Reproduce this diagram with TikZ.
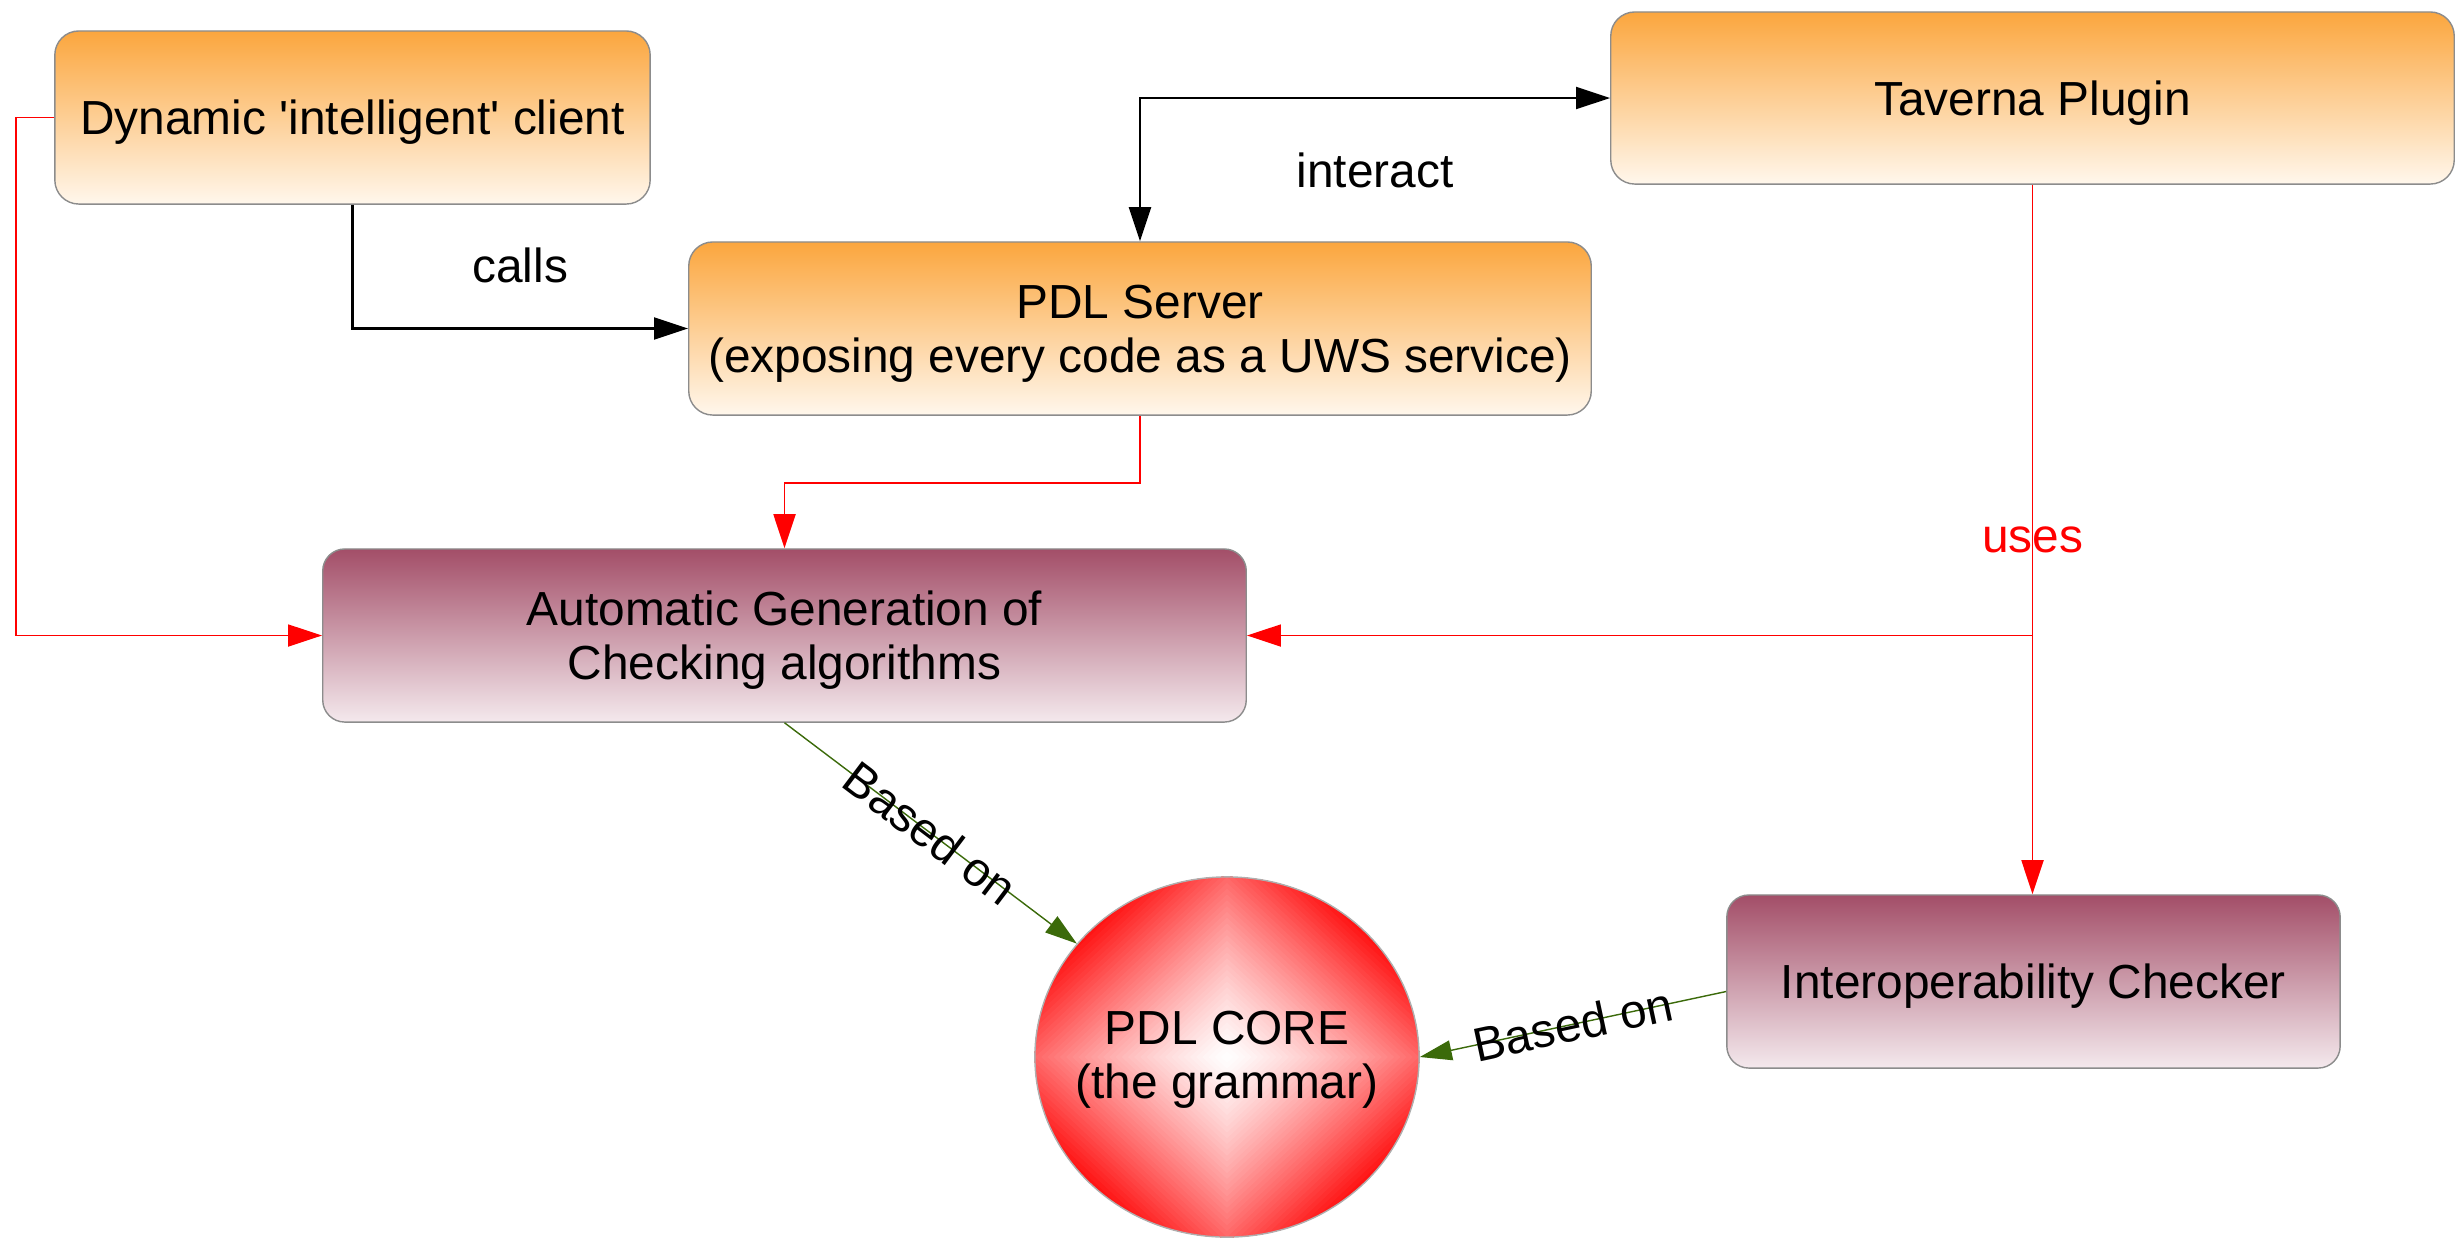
\documentclass[tikz,border=0pt]{standalone}
\usepackage{fontspec}
\setmainfont{Liberation Sans}
\usetikzlibrary{arrows.meta,shapes.geometric}

\definecolor{orangetop}{HTML}{FBA63E}
\definecolor{orangebot}{HTML}{FFF7EC}
\definecolor{maroontop}{HTML}{A34E68}
\definecolor{maroonbot}{HTML}{F4E9ED}
\definecolor{boxedge}{HTML}{8C8C8C}
\definecolor{linkred}{HTML}{FF0000}
\definecolor{basegreen}{HTML}{3B6A0A}

\tikzset{
  bigtri/.tip={Triangle[length=0.34cm,width=0.22cm]},
  greentri/.tip={Triangle[length=0.32cm,width=0.2cm]},
}

\begin{document}
\begin{tikzpicture}[x=0.01cm,y=-0.01cm,
  every node/.style={font=\fontsize{13.6}{15.4}\selectfont},
  orangebox/.style={rectangle, rounded corners=0.24cm, draw=boxedge, line width=0.4pt,
    top color=orangetop, bottom color=orangebot, align=center, inner sep=0pt, text depth=0pt},
  maroonbox/.style={rectangle, rounded corners=0.22cm, draw=boxedge, line width=0.4pt,
    top color=maroontop, bottom color=maroonbot, align=center, inner sep=0pt, text depth=0pt},
  calllink/.style={draw=black, line width=0.6pt, -bigtri},
  uselink/.style={draw=linkred, line width=0.5pt, -bigtri},
  baselink/.style={draw=basegreen, line width=0.4pt, -greentri},
]
\useasboundingbox (0,0) rectangle (2456,1238);

% service boxes
\node[orangebox, minimum width=5.95cm, minimum height=1.73cm] (dyn) at (352.5,117.5)
  {Dynamic \textquotesingle intelligent\textquotesingle\ client};
\node[orangebox, minimum width=9.02cm, minimum height=1.73cm] (pdl) at (1140,328.5)
  {PDL Server\\(exposing every code as a UWS service)};
\node[orangebox, minimum width=8.43cm, minimum height=1.72cm] (tav) at (2032.5,98)
  {Taverna Plugin};

% tool boxes
\node[maroonbox, minimum width=9.23cm, minimum height=1.73cm] (auto) at (784.5,635.5)
  {Automatic Generation of\\Checking algorithms};
\node[maroonbox, minimum width=6.13cm, minimum height=1.73cm] (interop) at (2033.5,981.5)
  {Interoperability Checker};

% grammar core with a diamond-stepped red gradient
\node[ellipse, draw=boxedge!70, line width=0.4pt, minimum width=3.84cm, minimum height=3.6cm,
  inner sep=0pt,
  path picture={
    \foreach \i in {0,...,44}{
      \pgfmathsetmacro\k{1.45*(1-\i/45)}
      \pgfmathsetmacro\c{min(100,95*(\k/1.45)^1.3)}
      \pgfmathsetmacro\dx{1.92*\k}
      \pgfmathsetmacro\dy{1.80*\k}
      \fill[red!\c!white]
        ([xshift=-\dx cm]path picture bounding box.center) --
        ([yshift=\dy cm]path picture bounding box.center) --
        ([xshift=\dx cm]path picture bounding box.center) --
        ([yshift=-\dy cm]path picture bounding box.center) -- cycle;
    }
  },
  label={[align=center, text depth=0pt, yshift=0.02cm]center:PDL CORE\\(the grammar)}]
  (core) at (1227,1057) {};

% black calls
\draw[calllink] (dyn.south) |- node[pos=0.75, yshift=0.63cm] {calls} (pdl.west);
\draw[calllink, bigtri-bigtri] (pdl.north) |- node[pos=0.75, yshift=-0.72cm] {interact} (tav.west);

% red usage links
\draw[uselink] (dyn.west) -- ++(-38,0) |- (auto.west);
\draw[uselink] (pdl.south) -- ++(0,67) -| (auto.north);
\draw[uselink] (tav.south) -- node[pos=0.5, text=linkred] {uses} (tav.south |- interop.north);
\draw[uselink] (tav.south |- auto.east) -- (auto.east);

% green dependency links
\draw[baselink] (auto.south) -- node[sloped] {Based on} (core);
\draw[baselink] ([yshift=-0.1cm]interop.west) -- node[sloped] {Based on} (core.east);
\end{tikzpicture}
\end{document}
